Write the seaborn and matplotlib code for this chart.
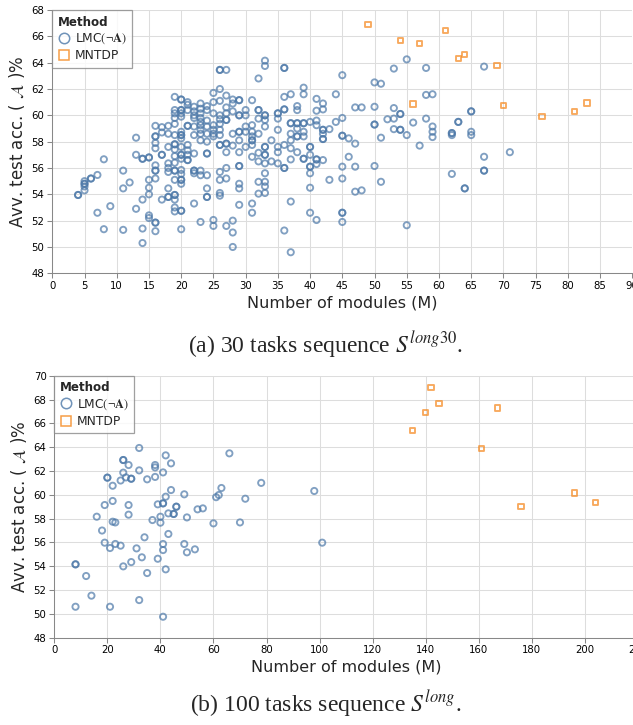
import numpy as np
import pandas as pd
import matplotlib
matplotlib.use("Agg")
import matplotlib.pyplot as plt
from matplotlib.lines import Line2D
import seaborn as sns

# ---- data (modules, avg test accuracy) ----
# 30 tasks, LMC (darker rings in the picture = overlapping points, listed twice)
lmc30_modules = [
    4, 4, 5, 5, 5, 5, 5, 6, 6, 7, 7, 8, 8, 9, 11, 11, 11, 12, 13, 13, 13,
    14, 14, 14, 14, 14, 15, 15, 15, 15, 15, 15, 15,
    16, 16, 16, 16, 16, 16, 16, 16, 16, 16, 16, 16,
    17, 17, 17, 17, 17, 18, 18, 18, 18, 18, 18, 18, 18, 18,
    19, 19, 19, 19, 19, 19, 19, 19, 19, 19, 19, 19, 19, 19, 19, 19, 19, 19, 19,
    20, 20, 20, 20, 20, 20, 20, 20, 20, 20, 20, 20, 20, 20, 20, 20, 20, 20, 20, 20, 20, 20,
    21, 21, 21, 21, 21, 21, 21, 21, 21, 21,
    22, 22, 22, 22, 22, 22, 22, 22, 22, 22, 22,
    23, 23, 23, 23, 23, 23, 23, 23, 23, 23, 23, 23,
    24, 24, 24, 24, 24, 24, 24, 24, 24, 24, 24, 24,
    25, 25, 25, 25, 25, 25, 25, 25, 25,
    26, 26, 26, 26, 26, 26, 26, 26, 26, 26, 26, 26, 26, 26, 26,
    27, 27, 27, 27, 27, 27, 27, 27, 27, 27, 27, 27,
    28, 28, 28, 28, 28, 28, 28, 28,
    29, 29, 29, 29, 29, 29, 29, 29, 29, 29, 29, 29, 29,
    30, 30, 30, 30, 30,
    31, 31, 31, 31, 31, 31, 31, 31, 31, 31,
    32, 32, 32, 32, 32, 32, 32, 32, 32,
    33, 33, 33, 33, 33, 33, 33, 33, 33, 33, 33, 33, 33, 33, 33,
    34, 34, 35, 35, 35, 35, 35, 35, 35,
    36, 36, 36, 36, 36, 36, 36, 36, 36,
    37, 37, 37, 37, 37, 37, 37, 37, 37,
    38, 38, 38, 38, 38, 38, 38, 38,
    39, 39, 39, 39, 39, 39, 39, 39,
    40, 40, 40, 40, 40, 40, 40, 40, 40,
    41, 41, 41, 41, 41, 41, 41, 41,
    42, 42, 42, 42, 42, 42, 42, 42,
    43, 43, 44, 44, 45, 45, 45, 45, 45, 45, 45, 45, 45,
    46, 46, 47, 47, 47, 47, 48, 48,
    50, 50, 50, 50, 50, 51, 51, 51, 52, 53, 53, 53, 53,
    54, 54, 54, 54, 55, 55, 55, 56, 57, 58, 58, 58, 59, 59, 59, 59,
    62, 62, 62, 62, 63, 63, 64, 64, 65, 65, 65, 65, 67, 67, 67, 67, 71,
]
lmc30_acc = [
    53.95, 53.95, 55.0, 54.8, 54.8, 54.6, 54.3, 55.2, 55.2, 55.47, 52.6, 56.66, 51.35, 53.1,
    55.8, 54.45, 51.3, 54.9, 58.3, 57.0, 52.9,
    56.7, 56.7, 53.6, 51.4, 50.3, 56.8, 56.8, 55.1, 54.5, 54.0, 52.4, 52.2,
    59.2, 58.4, 58.4, 57.9, 57.5, 56.2, 55.8, 55.8, 55.2, 51.85, 51.85, 51.2,
    59.1, 58.7, 57.0, 57.0, 53.6, 59.2, 58.6, 57.6, 56.35, 56.0, 55.7, 54.45, 53.8, 53.8,
    61.4, 60.4, 60.15, 59.8, 59.35, 58.5, 57.8, 57.8, 57.4, 56.9, 56.4, 55.8, 55.8, 55.1,
    53.95, 53.95, 53.6, 53.0, 52.7,
    61.2, 61.2, 60.4, 60.4, 60.15, 59.9, 58.75, 58.5, 58.5, 58.25, 57.6, 57.0, 57.0, 56.7,
    55.85, 55.55, 55.1, 55.1, 54.8, 52.75, 52.75, 51.35,
    61.0, 60.8, 60.4, 59.2, 59.2, 57.75, 57.35, 57.0, 56.6, 56.6,
    60.65, 60.3, 60.0, 59.8, 59.15, 58.5, 57.1, 55.8, 55.8, 55.6, 53.3,
    60.9, 60.5, 60.15, 59.8, 59.5, 59.25, 58.9, 58.6, 58.1, 55.8, 55.45, 51.9,
    60.7, 60.4, 59.6, 59.15, 58.6, 58.0, 57.1, 57.1, 55.45, 54.45, 53.8, 53.8,
    61.7, 61.0, 60.15, 59.25, 58.9, 58.6, 58.4, 52.05, 51.6,
    63.45, 63.45, 62.0, 61.1, 60.0, 59.7, 59.35, 58.9, 58.5, 57.75, 57.75, 55.7, 55.1, 54.1, 53.9,
    63.45, 61.5, 60.6, 60.15, 59.65, 59.65, 57.85, 57.85, 57.2, 56.0, 55.2, 51.6,
    61.2, 60.9, 60.3, 58.6, 57.7, 52.0, 51.1, 50.0,
    61.15, 61.15, 60.0, 60.0, 58.75, 58.75, 58.1, 57.2, 56.15, 56.15, 54.8, 54.45, 53.2,
    60.4, 60.0, 59.15, 58.75, 57.6,
    61.15, 59.25, 58.75, 58.4, 58.1, 58.1, 57.75, 56.85, 53.3, 52.6,
    62.8, 60.4, 60.4, 59.75, 58.6, 57.15, 56.5, 54.95, 54.05,
    64.15, 63.75, 60.0, 60.0, 59.65, 59.15, 57.6, 57.6, 57.0, 57.0, 56.35, 55.6, 54.95, 54.6, 54.1,
    58.1, 56.5, 60.15, 60.15, 59.75, 58.9, 57.6, 57.2, 56.35,
    63.6, 63.6, 61.4, 60.45, 60.45, 57.75, 56.0, 56.0, 51.25,
    61.6, 59.4, 59.4, 58.6, 58.1, 57.5, 56.65, 53.45, 49.6,
    60.7, 60.4, 59.4, 59.4, 59.0, 58.4, 58.4, 57.2,
    62.1, 61.6, 59.4, 59.4, 58.75, 58.4, 56.7, 56.7,
    59.5, 57.6, 57.6, 57.0, 56.1, 56.1, 55.6, 54.5, 52.6,
    61.25, 60.35, 59.6, 59.25, 56.65, 56.65, 56.3, 52.05,
    60.9, 60.45, 58.9, 58.9, 58.6, 58.2, 58.2, 56.6,
    58.95, 55.1, 61.6, 59.5, 63.05, 59.8, 58.45, 58.45, 56.1, 55.2, 52.6, 52.6, 51.9,
    58.25, 56.85, 60.6, 57.85, 56.1, 54.2, 60.6, 54.3,
    62.5, 60.65, 59.3, 59.3, 56.15, 62.4, 58.3, 54.95, 59.7, 63.55, 60.55, 59.75, 58.95,
    60.1, 60.1, 58.9, 58.9, 64.25, 58.5, 51.65, 59.45, 57.7, 63.6, 61.55, 59.75,
    61.6, 59.15, 58.75, 58.35,
    58.65, 58.65, 58.5, 55.55, 59.5, 59.5, 54.45, 54.45, 60.3, 60.3, 58.75, 58.5,
    63.7, 56.85, 55.8, 55.8, 57.2,
]
mntdp30_modules = [49, 54, 56, 57, 61, 63, 64, 69, 70, 76, 81, 83]
mntdp30_acc = [66.9, 65.7, 60.85, 65.45, 66.45, 64.3, 64.6, 63.8, 60.75, 59.9, 60.3, 60.95]

# 100 tasks
lmc100_modules = [
    8, 8, 8, 12, 14, 16, 18, 19, 19, 20, 20, 21, 21, 22, 22, 22, 23, 23, 25, 25,
    26, 26, 26, 26, 27, 28, 28, 28, 29, 29, 29, 31, 32, 32, 32, 33, 34, 35, 35,
    37, 38, 38, 38, 39, 39, 40, 40, 41, 41, 41, 41, 41, 41, 42, 42, 42, 43, 43,
    44, 44, 45, 45, 46, 46, 49, 49, 50, 50, 53, 54, 56, 60, 61, 62, 63, 66, 70,
    72, 78, 98, 101,
]
lmc100_acc = [
    54.16, 54.16, 50.6, 53.18, 51.53, 58.16, 57.0, 59.14, 55.98, 61.44, 61.44,
    55.53, 50.6, 60.76, 59.48, 57.74, 57.68, 55.87, 55.73, 61.2,
    62.92, 62.92, 61.86, 53.99, 61.46, 62.5, 59.14, 58.33, 61.35, 61.35, 54.35,
    55.5, 63.93, 62.05, 51.16, 54.75, 56.43, 61.3, 53.43,
    57.88, 62.5, 62.3, 61.5, 59.2, 54.63, 57.66, 58.16, 59.28, 59.28, 61.88,
    55.87, 55.36, 49.76, 59.84, 63.31, 53.74, 58.44, 56.71,
    62.64, 60.4, 58.39, 58.39, 59.0, 59.0, 60.04, 55.87, 58.1, 55.17, 55.42,
    58.78, 58.86, 57.6, 59.8, 59.98, 60.57, 63.48, 57.68,
    59.67, 61.0, 60.32, 55.98,
]
mntdp100_modules = [135, 140, 142, 145, 161, 167, 176, 196, 204]
mntdp100_acc = [65.41, 66.89, 68.99, 67.68, 63.9, 67.29, 59.0, 60.15, 59.36]

methods = ["LMC", "MNTDP"]
legend_labels = [r"LMC$(\neg\mathbf{A})$", "MNTDP"]
palette = {"LMC": "#4c78a8", "MNTDP": "#f58518"}
marker_map = {"LMC": "o", "MNTDP": "s"}

sns.set_theme(style="whitegrid", rc={
    "grid.color": "#dddddd",
    "grid.linewidth": 0.75,
    "axes.edgecolor": "#888888",
    "axes.linewidth": 0.75,
    "xtick.color": "#888888",
    "ytick.color": "#888888",
    "xtick.labelcolor": "black",
    "ytick.labelcolor": "black",
    "xtick.bottom": True,
    "ytick.left": True,
    "xtick.major.size": 3.6,
    "ytick.major.size": 3.6,
    "xtick.major.width": 0.75,
    "ytick.major.width": 0.75,
    "xtick.major.pad": 2,
    "ytick.major.pad": 2,
    "xtick.labelsize": 7.3,
    "ytick.labelsize": 7.3,
})
plt.rcParams["font.family"] = ["DejaVu Sans"]
plt.rcParams["mathtext.fontset"] = "stix"


def make_frame(lmc_x, lmc_y, mn_x, mn_y):
    return pd.DataFrame({
        "modules": list(lmc_x) + list(mn_x),
        "acc": list(lmc_y) + list(mn_y),
        "Method": ["LMC"] * len(lmc_x) + ["MNTDP"] * len(mn_x),
    })


def draw(ax, df, xlim, xticks, ylim):
    for m in methods:
        sub = df[df["Method"] == m]
        sns.scatterplot(data=sub, x="modules", y="acc", ax=ax, marker=marker_map[m],
                        color=palette[m], s=20 if m == "LMC" else 15, legend=False)
        pts = ax.collections[-1]
        pts.set_facecolors("none")
        pts.set_edgecolors(palette[m])
        pts.set_linewidths(1.35)
        pts.set_alpha(0.7)
    ax.set_xlim(*xlim)
    ax.set_ylim(*ylim)
    ax.set_xticks(xticks)
    ax.set_yticks(np.arange(ylim[0], ylim[1] + 1, 2))
    for s in ["top", "right"]:
        ax.spines[s].set_visible(False)
    ax.set_axisbelow(True)
    ax.set_xlabel("Number of modules (M)", fontsize=11.5, labelpad=3)
    ax.set_ylabel(r"Avv. test acc. ( $\mathcal{A}$ )%", fontsize=12, labelpad=3)
    handles = [Line2D([], [], ls="none", marker=marker_map[m], ms=7.5, mfc="none",
                      mec=palette[m], mew=1.1, alpha=0.8) for m in methods]
    leg = ax.legend(handles, legend_labels, title="Method", loc="upper left",
                    bbox_to_anchor=(0, 1), borderaxespad=0, frameon=True, fancybox=False,
                    fontsize=8.8, title_fontproperties={"weight": "bold", "size": 8.6},
                    handlelength=1.0, handletextpad=0.4, borderpad=0.45,
                    labelspacing=0.25, alignment="left")
    leg.get_frame().set_edgecolor("#888888")
    leg.get_frame().set_linewidth(0.9)


fig = plt.figure(figsize=(6.33, 7.25), dpi=100)
W, H = 633, 725
ax1 = fig.add_axes([52.3 / W, 1 - 273.3 / H, 580 / W, 263.3 / H])
ax2 = fig.add_axes([54.3 / W, 1 - 637.7 / H, 583.6 / W, 262 / H])

draw(ax1, make_frame(lmc30_modules, lmc30_acc, mntdp30_modules, mntdp30_acc),
     (0, 90), np.arange(0, 91, 5), (48, 68))
draw(ax2, make_frame(lmc100_modules, lmc100_acc, mntdp100_modules, mntdp100_acc),
     (0, 220), np.arange(0, 221, 20), (48, 70))

cap_kw = dict(ha="center", va="center", fontsize=17, family="Liberation Serif")
fig.text(325.5 / W, 1 - 345 / H, r"(a) 30 tasks sequence $S^{long30}$.", **cap_kw)
fig.text(325.5 / W, 1 - 704 / H, r"(b) 100 tasks sequence $S^{long}$.", **cap_kw)

fig.savefig("out.png", dpi=100)
